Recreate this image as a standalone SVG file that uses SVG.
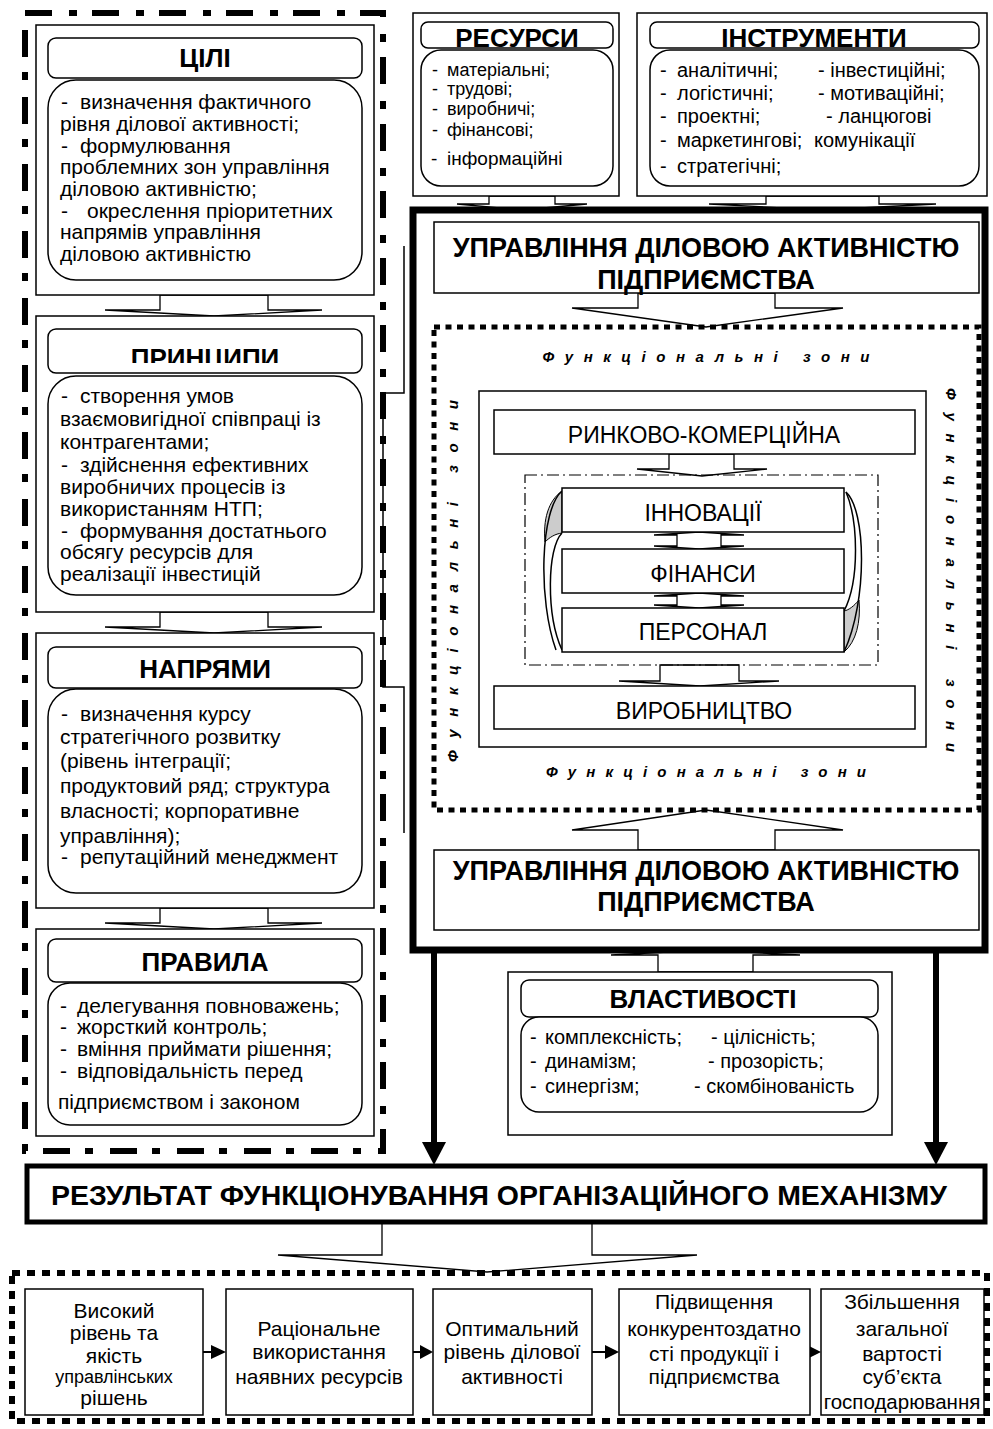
<svg xmlns="http://www.w3.org/2000/svg" width="993" height="1429" viewBox="0 0 993 1429">
<style>
text{font-family:"Liberation Sans",Arial,"Noto Sans",sans-serif;fill:#000}
.b{fill:#fff;stroke:#000;stroke-width:1.5}
.nf{fill:none;stroke:#000;stroke-width:1.5}
.ttl{font-size:26px;font-weight:bold;text-anchor:middle}
.tx{font-size:21px}
.rs{font-size:18px}
.md{font-size:20px}
.c{text-anchor:middle}
.inn{font-size:23px;text-anchor:middle}
.big{font-size:27px;font-weight:bold;text-anchor:middle}
.fz{font-size:15px;font-weight:bold;font-style:italic;text-anchor:middle}
.ba{fill:#fff;stroke:#000;stroke-width:1.3;stroke-linejoin:miter}
</style>
<defs>
<clipPath id="clipPr"><rect x="48" y="330" width="314" height="33"/></clipPath>
</defs>
<rect x="0" y="0" width="993" height="1429" fill="#fff"/>

<g id="connectors">
  <polygon class="ba" points="160,295 160,310 105,310 214,316 322,310 268,310 268,295"/>
  <polygon class="ba" points="160,612 160,627 105,627 214,633 322,627 268,627 268,612"/>
  <polygon class="ba" points="160,908 160,923 105,923 214,929 322,923 268,923 268,908"/>
  <polygon class="ba" points="489,196 489,204 457,204 522,210 587,204 555,204 555,196"/>
  <polygon class="ba" points="766,196 766,204 709,204 822,210 936,204 879,204 879,196"/>
  <polygon class="ba" points="638,293 638,308 572,308 706,327 843,308 775,308 775,293"/>
  <polygon class="ba" points="669,454 669,469 637,469 702,476 767,469 734,469 734,454"/>
  <polygon class="ba" points="660,665 660,681 619,681 700,686 779,681 739,681 739,665"/>
  <polygon class="ba" points="699,532 744,535 721,535 721,546 744,546 699,549 654,546 677,546 677,535 654,535"/>
  <polygon class="ba" points="699,593 744,596 721,596 721,605 744,605 699,608 654,605 677,605 677,596 654,596"/>
  <polygon class="ba" points="638,850 638,830 572,830 706,810 843,830 775,830 775,850"/>
  <polygon class="ba" points="658,972 658,955 611,955 706,950 800,955 753,955 753,972"/>
  <polygon class="ba" points="382,1222 382,1255 278,1255 487,1272 697,1255 592,1255 592,1222"/>
  <path class="nf" d="M404,246 V393 H383 V687 H404 V833"/>
  <line x1="434" y1="950" x2="434" y2="1145" stroke="#000" stroke-width="6"/>
  <polygon points="422,1142 446,1142 434,1165" fill="#000"/>
  <line x1="936" y1="950" x2="936" y2="1145" stroke="#000" stroke-width="6"/>
  <polygon points="924,1142 948,1142 936,1165" fill="#000"/>
  <path d="M562,491 C548,501 543,520 545,542 C550,537 555,534 562,533 Z" fill="#ccc" stroke="#000" stroke-width="1"/>
  <path class="nf" d="M562,491 C540,510 538,600 556,650" stroke-width="1.2"/>
  <path class="nf" d="M562,533 C547,548 546,615 562,650" stroke-width="1.2"/>
  <path d="M844,652 C856,642 861,622 859,600 C854,606 849,610 844,611 Z" fill="#ccc" stroke="#000" stroke-width="1"/>
  <path class="nf" d="M846,492 C866,510 868,600 844,652" stroke-width="1.2"/>
  <path class="nf" d="M846,492 C858,520 860,580 844,611" stroke-width="1.2"/>
  <g stroke="#000" stroke-width="2">
    <line x1="203" y1="1352" x2="212" y2="1352"/>
    <line x1="413" y1="1352" x2="421" y2="1352"/>
    <line x1="592" y1="1352" x2="606" y2="1352"/>
  </g>
  <polygon points="211,1345 226,1352 211,1359" fill="#000"/>
  <polygon points="420,1345 433,1352 420,1359" fill="#000"/>
  <polygon points="605,1345 619,1352 605,1359" fill="#000"/>
  <polygon points="807,1345 821,1352 807,1359" fill="#000"/>
</g>

<g id="left-border">
  <rect x="25" y="13" width="358" height="1138" fill="none" stroke="#000" stroke-width="6" stroke-dasharray="27 17 8 15"/>
</g>

<g id="goals">
  <rect class="b" x="36" y="25" width="338" height="270"/>
  <rect class="b" x="48" y="38" width="314" height="40" rx="8"/>
  <rect class="b" x="48" y="80" width="314" height="200" rx="28"/>
  <text class="ttl" x="205" y="67">ЦІЛІ</text>
  <g class="tx">
    <text y="109"><tspan x="61">-</tspan><tspan x="80">визначення фактичного</tspan></text>
    <text x="60" y="131">рівня ділової активності;</text>
    <text y="153"><tspan x="61">-</tspan><tspan x="80">формулювання</tspan></text>
    <text x="60" y="174">проблемних зон управління</text>
    <text x="60" y="196">діловою активністю;</text>
    <text y="218"><tspan x="61">-</tspan><tspan x="87">окреслення пріоритетних</tspan></text>
    <text x="60" y="239">напрямів управління</text>
    <text x="60" y="261">діловою активністю</text>
  </g>
</g>

<g id="principles">
  <rect class="b" x="36" y="316" width="338" height="296"/>
  <rect class="b" x="48" y="329" width="314" height="44" rx="8"/>
  <rect class="b" x="48" y="376" width="314" height="219" rx="28"/>
  <text class="ttl" x="205" y="367" clip-path="url(#clipPr)">ПРИНЦИПИ</text>
  <g class="tx">
    <text y="403"><tspan x="61">-</tspan><tspan x="80">створення умов</tspan></text>
    <text x="60" y="426">взаємовигідної співпраці із</text>
    <text x="60" y="449">контрагентами;</text>
    <text y="472"><tspan x="61">-</tspan><tspan x="80">здійснення ефективних</tspan></text>
    <text x="60" y="494">виробничих процесів із</text>
    <text x="60" y="516">використанням НТП;</text>
    <text y="538"><tspan x="61">-</tspan><tspan x="80">формування достатнього</tspan></text>
    <text x="60" y="559">обсягу ресурсів для</text>
    <text x="60" y="581">реалізації інвестицій</text>
  </g>
</g>

<g id="directions">
  <rect class="b" x="36" y="633" width="338" height="275"/>
  <rect class="b" x="48" y="647" width="314" height="41" rx="8"/>
  <rect class="b" x="48" y="689" width="314" height="204" rx="28"/>
  <text class="ttl" x="205" y="678">НАПРЯМИ</text>
  <g class="tx">
    <text y="721"><tspan x="61">-</tspan><tspan x="80">визначення курсу</tspan></text>
    <text x="60" y="744">стратегічного розвитку</text>
    <text x="60" y="768">(рівень інтеграції;</text>
    <text x="60" y="793">продуктовий ряд; структура</text>
    <text x="60" y="818">власності; корпоративне</text>
    <text x="60" y="843">управління);</text>
    <text y="864"><tspan x="61">-</tspan><tspan x="80">репутаційний менеджмент</tspan></text>
  </g>
</g>

<g id="rules">
  <rect class="b" x="36" y="929" width="338" height="207"/>
  <rect class="b" x="48" y="939" width="314" height="43" rx="8"/>
  <rect class="b" x="48" y="983" width="314" height="142" rx="22"/>
  <text class="ttl" x="205" y="971">ПРАВИЛА</text>
  <g class="tx">
    <text y="1013"><tspan x="60">-</tspan><tspan x="77">делегування повноважень;</tspan></text>
    <text y="1034"><tspan x="60">-</tspan><tspan x="77">жорсткий контроль;</tspan></text>
    <text y="1056"><tspan x="60">-</tspan><tspan x="77">вміння приймати рішення;</tspan></text>
    <text y="1078"><tspan x="60">-</tspan><tspan x="77">відповідальність перед</tspan></text>
    <text x="58" y="1109">підприємством і законом</text>
  </g>
</g>

<g id="resources">
  <rect class="b" x="413" y="13" width="206" height="183"/>
  <rect class="b" x="421" y="22" width="192" height="26" rx="7"/>
  <rect class="b" x="421" y="50" width="192" height="136" rx="20"/>
  <text class="ttl" x="517" y="47">РЕСУРСИ</text>
  <g class="rs">
    <text y="76"><tspan x="432">-</tspan><tspan x="447">матеріальні;</tspan></text>
    <text y="95"><tspan x="432">-</tspan><tspan x="447">трудові;</tspan></text>
    <text y="115"><tspan x="432">-</tspan><tspan x="447">виробничі;</tspan></text>
    <text y="136"><tspan x="432">-</tspan><tspan x="447">фінансові;</tspan></text>
    <text y="165" font-size="19"><tspan x="431">-</tspan><tspan x="447">інформаційні</tspan></text>
  </g>
</g>

<g id="tools">
  <rect class="b" x="637" y="13" width="350" height="183"/>
  <rect class="b" x="650" y="22" width="329" height="26" rx="7"/>
  <rect class="b" x="650" y="50" width="329" height="136" rx="20"/>
  <text class="ttl" x="814" y="47">ІНСТРУМЕНТИ</text>
  <g class="md">
    <text y="77"><tspan x="660">-</tspan><tspan x="677">аналітичні;</tspan><tspan x="818">- інвестиційні;</tspan></text>
    <text y="100"><tspan x="660">-</tspan><tspan x="677">логістичні;</tspan><tspan x="818">- мотиваційні;</tspan></text>
    <text y="123"><tspan x="660">-</tspan><tspan x="677">проектні;</tspan><tspan x="826">- ланцюгові</tspan></text>
    <text y="147"><tspan x="660">-</tspan><tspan x="677">маркетингові;</tspan><tspan x="814">комунікації</tspan></text>
    <text y="173"><tspan x="660">-</tspan><tspan x="677">стратегічні;</tspan></text>
  </g>
</g>

<g id="management">
  <rect x="413" y="210" width="572" height="740" fill="none" stroke="#000" stroke-width="7"/>
</g>

<g id="mgmt-top">
  <rect class="b" x="434" y="222" width="545" height="71"/>
  <text class="big" x="706" y="257">УПРАВЛІННЯ ДІЛОВОЮ АКТИВНІСТЮ</text>
  <text class="big" x="706" y="289">ПІДПРИЄМСТВА</text>
</g>

<g id="functional-zones">
  <rect x="434" y="327" width="545" height="483" fill="none" stroke="#000" stroke-width="5" stroke-dasharray="6 5.5"/>
  <text class="fz" x="706" y="362" textLength="327" lengthAdjust="spacing">Функціональні зони</text>
  <text class="fz" x="706" y="777" textLength="320" lengthAdjust="spacing">Функціональні зони</text>
  <text class="fz" transform="translate(458,581) rotate(-90)" textLength="362" lengthAdjust="spacing">Функціональні зони</text>
  <text class="fz" transform="translate(946,570) rotate(90)" textLength="364" lengthAdjust="spacing">Функціональні зони</text>
  <rect class="nf" x="479" y="391" width="447" height="356"/>
</g>

<g id="market">
  <rect class="b" x="494" y="410" width="421" height="44"/>
  <text class="inn" x="704" y="443">РИНКОВО-КОМЕРЦІЙНА</text>
</g>

<g id="core-zone">
  <rect x="525" y="475" width="353" height="190" fill="none" stroke="#000" stroke-width="1.2" stroke-dasharray="12 4 2 4"/>
</g>

<g id="innovations">
  <rect class="b" x="562" y="488" width="282" height="44"/>
  <text class="inn" x="703" y="521">ІННОВАЦІЇ</text>
</g>
<g id="finance">
  <rect class="b" x="562" y="549" width="282" height="44"/>
  <text class="inn" x="703" y="582">ФІНАНСИ</text>
</g>
<g id="personnel">
  <rect class="b" x="562" y="608" width="282" height="44"/>
  <text class="inn" x="703" y="640">ПЕРСОНАЛ</text>
</g>
<g id="production">
  <rect class="b" x="494" y="686" width="421" height="43"/>
  <text class="inn" x="704" y="719">ВИРОБНИЦТВО</text>
</g>

<g id="mgmt-bottom">
  <rect class="b" x="434" y="850" width="545" height="80"/>
  <text class="big" x="706" y="880">УПРАВЛІННЯ ДІЛОВОЮ АКТИВНІСТЮ</text>
  <text class="big" x="706" y="911">ПІДПРИЄМСТВА</text>
</g>

<g id="properties">
  <rect class="b" x="508" y="972" width="384" height="163"/>
  <rect class="b" x="521" y="980" width="357" height="37" rx="8"/>
  <rect class="b" x="521" y="1017" width="357" height="95" rx="18"/>
  <text class="ttl" x="703" y="1008">ВЛАСТИВОСТІ</text>
  <g class="md">
    <text y="1044"><tspan x="530">-</tspan><tspan x="545">комплексність;</tspan><tspan x="711">- цілісність;</tspan></text>
    <text y="1068"><tspan x="530">-</tspan><tspan x="545">динамізм;</tspan><tspan x="708">- прозорість;</tspan></text>
    <text y="1093"><tspan x="530">-</tspan><tspan x="545">синергізм;</tspan><tspan x="694">- скомбінованість</tspan></text>
  </g>
</g>

<g id="result">
  <rect x="27" y="1166" width="958" height="56" fill="#fff" stroke="#000" stroke-width="5"/>
  <text x="499" y="1205" font-size="27" font-weight="bold" text-anchor="middle" textLength="896" lengthAdjust="spacingAndGlyphs">РЕЗУЛЬТАТ ФУНКЦІОНУВАННЯ ОРГАНІЗАЦІЙНОГО МЕХАНІЗМУ</text>
</g>

<g id="outcomes">
  <rect x="12" y="1273" width="975" height="148" fill="none" stroke="#000" stroke-width="6" stroke-dasharray="8 7"/>
</g>

<g id="out1">
  <rect class="b" x="25" y="1289" width="178" height="126"/>
  <g class="tx c">
    <text x="114" y="1318">Високий</text>
    <text x="114" y="1340">рівень та</text>
    <text x="114" y="1363">якість</text>
    <text x="114" y="1383" font-size="18">управлінських</text>
    <text x="114" y="1405">рішень</text>
  </g>
</g>
<g id="out2">
  <rect class="b" x="226" y="1289" width="187" height="126"/>
  <g class="tx c">
    <text x="319" y="1336">Раціональне</text>
    <text x="319" y="1359">використання</text>
    <text x="319" y="1384">наявних ресурсів</text>
  </g>
</g>
<g id="out3">
  <rect class="b" x="433" y="1289" width="159" height="126"/>
  <g class="tx c">
    <text x="512" y="1336">Оптимальний</text>
    <text x="512" y="1359">рівень ділової</text>
    <text x="512" y="1384">активності</text>
  </g>
</g>
<g id="out4">
  <rect class="b" x="619" y="1289" width="191" height="126"/>
  <g class="tx c">
    <text x="714" y="1309">Підвищення</text>
    <text x="714" y="1336">конкурентоздатно</text>
    <text x="714" y="1361">сті продукції і</text>
    <text x="714" y="1384">підприємства</text>
  </g>
</g>
<g id="out5">
  <rect class="b" x="821" y="1289" width="163" height="126"/>
  <g class="tx c">
    <text x="902" y="1309">Збільшення</text>
    <text x="902" y="1336">загальної</text>
    <text x="902" y="1361">вартості</text>
    <text x="902" y="1384">суб’єкта</text>
    <text x="902" y="1409" font-size="20.5">господарювання</text>
  </g>
</g>
</svg>
